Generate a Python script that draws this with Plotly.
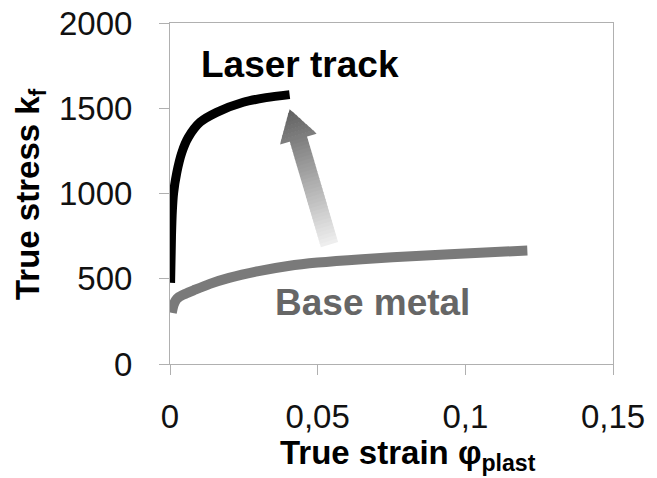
import plotly.graph_objects as go

# Data
laser_strain = [0.0002, 0.0005, 0.0008, 0.0012, 0.0023, 0.004, 0.0062, 0.0102, 0.0158, 0.0248, 0.0325, 0.0405]
laser_stress = [476, 750, 900, 1000, 1123, 1240, 1329, 1418, 1476, 1535, 1562, 1580]

base_strain = [0.0006, 0.0012, 0.002, 0.003, 0.005, 0.008, 0.0135, 0.020, 0.030, 0.040, 0.050, 0.065, 0.085, 0.105, 0.121]
base_stress = [300, 345, 375, 392, 410, 432, 470, 505, 545, 575, 595, 615, 635, 653, 665]

x_ticks = [0, 0.05, 0.1, 0.15]
x_ticklabels = ["0", "0,05", "0,1", "0,15"]
y_ticks = [0, 500, 1000, 1500, 2000]
y_ticklabels = ["0", "500", "1000", "1500", "2000"]

# Arrow (tail -> tip) in data coordinates
arrow_tail = (0.054, 700)
arrow_tip = (0.0405, 1494)

W, H = 657, 478
ML, MR, MT, MB = 170, 44, 23, 114
XR = (0, 0.15)
YR = (0, 2000)
pw = W - ML - MR
ph = H - MT - MB

FONT = "Liberation Sans, Arial, sans-serif"

fig = go.Figure()
fig.add_trace(go.Scatter(x=base_strain, y=base_stress, mode="lines",
                         line=dict(color="#7a7a7a", width=10, shape="spline", smoothing=0.8),
                         hoverinfo="skip"))
fig.add_trace(go.Scatter(x=laser_strain, y=laser_stress, mode="lines",
                         line=dict(color="#000000", width=9, shape="spline", smoothing=0.8),
                         hoverinfo="skip"))

def to_px(x, y):
    return ((x - XR[0]) / (XR[1] - XR[0]) * pw, (y - YR[0]) / (YR[1] - YR[0]) * ph)

def to_data(px, py):
    return (XR[0] + px / pw * (XR[1] - XR[0]), YR[0] + py / ph * (YR[1] - YR[0]))

tx, ty = to_px(*arrow_tail)
hx, hy = to_px(*arrow_tip)
dx, dy = hx - tx, hy - ty
L = (dx ** 2 + dy ** 2) ** 0.5
ux, uy = dx / L, dy / L
nx, ny = -uy, ux
shaft_hw = 9
head_hw = 19
head_len = 31
shaft_len = L - head_len

def poly(pts):
    d = []
    for i, (px, py) in enumerate(pts):
        x, y = to_data(px, py)
        d.append(("M" if i == 0 else "L") + f"{x},{y}")
    return " ".join(d) + " Z"

def gray(t):
    c0, c1 = 240, 95
    v = int(round(c0 + (c1 - c0) * t))
    return f"rgb({v},{v},{v})"

shapes = []
N = 30
for i in range(N):
    s0 = shaft_len * i / N
    s1 = shaft_len * (i + 1) / N + (0.8 if i < N - 1 else 1.0)
    pts = []
    for s, sgn in [(s0, 1), (s1, 1), (s1, -1), (s0, -1)]:
        pts.append((tx + ux * s + sgn * nx * shaft_hw, ty + uy * s + sgn * ny * shaft_hw))
    shapes.append(dict(type="path", xref="x", yref="y", path=poly(pts),
                       fillcolor=gray((s0 + s1) / 2 / L), line=dict(width=0), layer="below"))
M = 8
for j in range(M):
    a0 = shaft_len + head_len * j / M
    a1 = shaft_len + head_len * (j + 1) / M + (0.6 if j < M - 1 else 0)
    w0 = head_hw * (1 - j / M)
    w1 = max(head_hw * (1 - (j + 1) / M), 0)
    pts = [(tx + ux * a0 + nx * w0, ty + uy * a0 + ny * w0),
           (tx + ux * a1 + nx * w1, ty + uy * a1 + ny * w1),
           (tx + ux * a1 - nx * w1, ty + uy * a1 - ny * w1),
           (tx + ux * a0 - nx * w0, ty + uy * a0 - ny * w0)]
    shapes.append(dict(type="path", xref="x", yref="y", path=poly(pts),
                       fillcolor=gray(min(1, (a0 + a1) / 2 / L)), line=dict(width=0), layer="below"))

axis_common = dict(showgrid=False, zeroline=False, showline=True, linecolor="#b0b0b0", linewidth=1,
                   mirror=True, ticks="outside", ticklen=10, tickcolor="#b0b0b0", tickwidth=1,
                   automargin=False,
                   tickfont=dict(family=FONT, size=33, color="#111"))

fig.update_layout(
    width=W, height=H,
    margin=dict(l=ML, r=MR, t=MT, b=MB, autoexpand=False),
    paper_bgcolor="white", plot_bgcolor="white",
    showlegend=False,
    shapes=shapes,
    xaxis=dict(range=list(XR), tickvals=x_ticks, ticktext=x_ticklabels, ticklabelstandoff=13, **axis_common),
    yaxis=dict(range=list(YR), tickvals=y_ticks, ticktext=y_ticklabels, ticklabelstandoff=20, **axis_common),
    annotations=[
        dict(text="<b>Laser track</b>", x=0.044, y=1759, xref="x", yref="y", showarrow=False,
             font=dict(family=FONT, size=37, color="#000")),
        dict(text="<b>Base metal</b>", x=0.0685, y=360, xref="x", yref="y", showarrow=False,
             font=dict(family=FONT, size=37, color="#666")),
        dict(text="<b>True strain φ<sub>plast</sub></b>", x=(408 - ML) / pw, y=-(455 - (H - MB)) / ph,
             xref="paper", yref="paper",
             xanchor="center", yanchor="middle", showarrow=False,
             font=dict(family=FONT, size=33, color="#000")),
        dict(text="<b>True stress k<sub>f</sub></b>", x=(30 - ML) / pw, y=((H - MB) - 194) / ph,
             xref="paper", yref="paper",
             textangle=-90, xanchor="center", yanchor="middle", showarrow=False,
             font=dict(family=FONT, size=33, color="#000")),
    ],
)

fig.write_html("out.html")
